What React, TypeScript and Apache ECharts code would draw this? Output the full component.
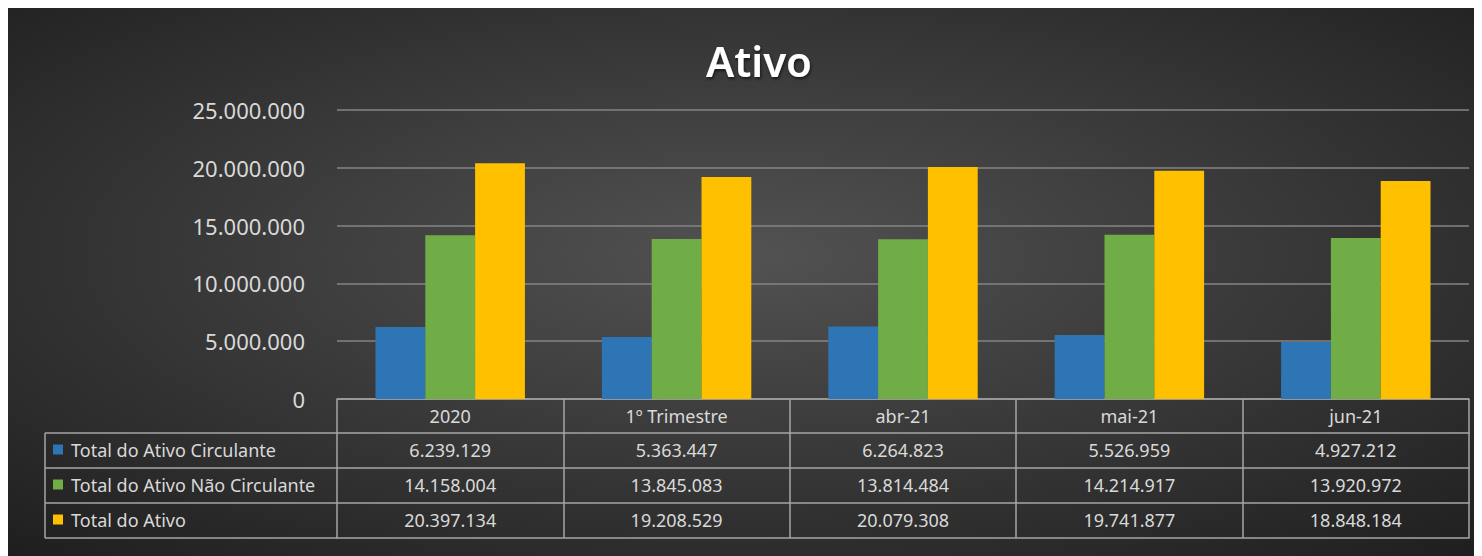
import React, { useEffect, useRef } from "react";
import * as echarts from "echarts";

const categories = ["2020", "1º Trimestre", "abr-21", "mai-21", "jun-21"];
const seriesNames = ["Total do Ativo Circulante", "Total do Ativo Não Circulante", "Total do Ativo"];
const circulante = [6239129, 5363447, 6264823, 5526959, 4927212];
const naoCirculante = [14158004, 13845083, 13814484, 14214917, 13920972];
const total = [20397134, 19208529, 20079308, 19741877, 18848184];
const colors = ["#2E75B6", "#70AD47", "#FFC000"];

const fmt = (v: number) => String(Math.round(v)).replace(/\B(?=(\d{3})+(?!\d))/g, ".");

export default function App() {
  const ref = useRef<HTMLDivElement>(null);
  useEffect(() => {
    document.documentElement.style.overflow = "hidden";
    document.body.style.overflow = "hidden";
    const chart = echarts.init(ref.current!, null, { renderer: "svg" });
    const H = 548;
    const gridLeft = 329, gridRight = 13, gridTop = 102, gridBottomY = 391;
    const rowH = 35;
    const headH = 34;
    const font = "'Noto Sans', sans-serif";
    const txt = "#d9d9d9";
    const border = "#a6a6a6";
    const rows = [circulante, naoCirculante, total];

    const baseAxis = (offset: number, labels: ((i: number) => string) | null, tickLen: number) => ({
      type: "category" as const,
      data: categories,
      position: "bottom" as const,
      offset,
      axisLine: { show: true, onZero: false, lineStyle: { color: border, width: 1.5 } },
      axisTick: { show: tickLen > 0, length: tickLen, interval: 0, lineStyle: { color: border, width: 1.5 } },
      axisLabel: labels
        ? {
            show: true,
            interval: 0,
            margin: 8,
            color: txt,
            fontSize: 18,
            fontFamily: font,
            formatter: (_v: string, i: number) => labels(i),
          }
        : { show: false },
      splitLine: { show: false },
    });

    const xAxes: any[] = [baseAxis(0, (i) => categories[i], headH)];
    rows.forEach((r, k) => {
      xAxes.push(baseAxis(headH + k * rowH, (i) => fmt(r[i]), rowH));
    });
    xAxes.push(baseAxis(headH + 3 * rowH, null, 0));

    const rowTop = gridBottomY + headH;
    const leftX = 37;
    const graphicLines: any[] = [];
    for (let k = 0; k <= 3; k++) {
      graphicLines.push({
        type: "line",
        shape: { x1: leftX, y1: rowTop + k * rowH, x2: gridLeft, y2: rowTop + k * rowH },
        style: { stroke: border, lineWidth: 1.5 },
      });
    }
    graphicLines.push({
      type: "line",
      shape: { x1: leftX, y1: rowTop, x2: leftX, y2: rowTop + 3 * rowH },
      style: { stroke: border, lineWidth: 1.5 },
    });

    chart.setOption({
      animation: false,
      backgroundColor: {
        type: "radial",
        x: 0.5,
        y: 0.45,
        r: 0.75,
        colorStops: [
          { offset: 0, color: "#525252" },
          { offset: 1, color: "#1e1e1e" },
        ],
      },
      title: {
        text: "Ativo",
        left: 746,
        top: 26,
        textAlign: "center",
        textStyle: {
          color: "#ffffff",
          fontSize: 42,
          fontWeight: 600,
          fontFamily: font,
          textShadowColor: "rgba(0,0,0,0.6)",
          textShadowBlur: 3,
          textShadowOffsetX: 1,
          textShadowOffsetY: 2,
        },
      },
      legend: {
        orient: "vertical",
        left: 45,
        top: rowTop + rowH / 2 - 11,
        padding: 0,
        itemGap: rowH - 20,
        itemWidth: 10,
        itemHeight: 10,
        icon: "rect",
        selectedMode: false,
        data: seriesNames,
        textStyle: { color: txt, fontSize: 18, fontFamily: font, lineHeight: 20, padding: [0, 0, 0, 3] },
      },
      grid: { left: gridLeft, right: gridRight, top: gridTop, bottom: H - gridBottomY, containLabel: false },
      xAxis: xAxes,
      yAxis: {
        type: "value",
        min: 0,
        max: 25000000,
        interval: 5000000,
        axisLine: { show: false },
        axisTick: { show: false },
        axisLabel: { color: txt, fontSize: 22, fontFamily: font, margin: 32, formatter: (v: number) => fmt(v) },
        splitLine: { lineStyle: { color: "#858585", width: 1.5 } },
      },
      series: [circulante, naoCirculante, total].map((d, i) => ({
        name: seriesNames[i],
        type: "bar",
        data: d,
        xAxisIndex: 0,
        barGap: "0%",
        barCategoryGap: "34%",
        itemStyle: { color: colors[i] },
      })),
      graphic: graphicLines,
    });
    return () => chart.dispose();
  }, []);
  return <div ref={ref} style={{ width: 1474, height: 548 }} />;
}
